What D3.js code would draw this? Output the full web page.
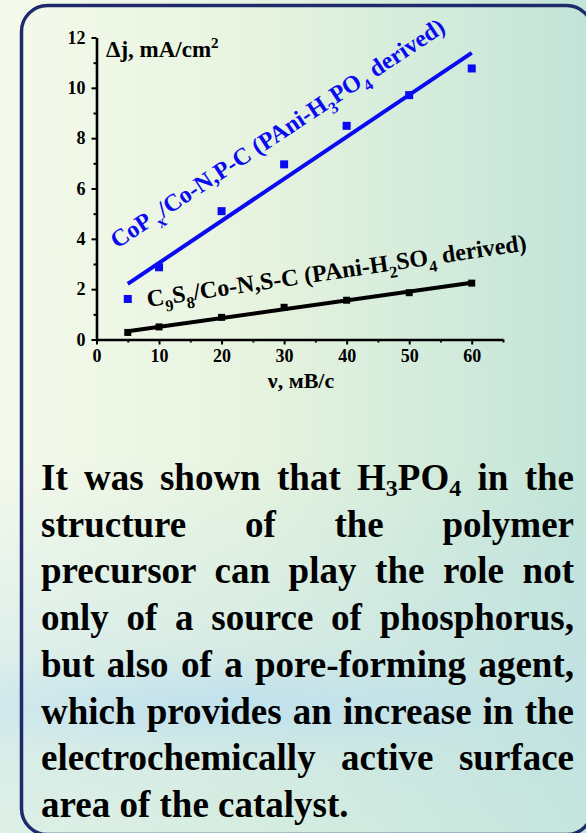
<!DOCTYPE html>
<html>
<head>
<meta charset="utf-8">
<script src="https://cdn.jsdelivr.net/npm/d3@7/dist/d3.min.js"></script>
<style>
  html, body { margin: 0; padding: 0; }
  body { width: 586px; height: 833px; position: relative; overflow: hidden; }
  svg { position: absolute; left: 0; top: 0; }
  #note {
    position: absolute; left: 41px; top: 455px; width: 533px;
    font-family: "Liberation Serif", "Times New Roman", serif;
    font-weight: bold; font-size: 37px; line-height: 46.7px; color: #000;
  }
  #note .ln { text-align: justify; text-align-last: justify; white-space: nowrap; }
  #note .ln.last { text-align: left; text-align-last: left; }
  #note sub { font-size: 0.65em; vertical-align: -0.25em; line-height: 0; }
</style>
</head>
<body>
<svg id="chart" width="586" height="833"></svg>
<div id="note"></div>
<script>
// scan rate, mV/s
const scanRates = [5, 10, 20, 30, 40, 50, 60];
// Δj for CoPx/Co-N,P-C (PAni-H3PO4 derived), mA/cm2
const copValues = [1.61, 2.87, 5.10, 6.96, 8.49, 9.71, 10.77];
// Δj for C9S8/Co-N,S-C (PAni-H2SO4 derived), mA/cm2
const c9s8Values = [0.28, 0.50, 0.88, 1.28, 1.56, 1.86, 2.24];
const xTicks = [0, 10, 20, 30, 40, 50, 60];
const xMinorTicks = [5, 15, 25, 35, 45, 55, 65];
const yTicks = [0, 2, 4, 6, 8, 10, 12];
const yMinorTicks = [1, 3, 5, 7, 9, 11];
const noteLines = [
  ["It was shown that H", {sub: "3"}, "PO", {sub: "4"}, " in the"],
  ["structure of the polymer"],
  ["precursor can play the role not"],
  ["only of a source of phosphorus,"],
  ["but also of a pore-forming agent,"],
  ["which provides an increase in the"],
  ["electrochemically active surface"],
  ["area of the catalyst."]
];

const svg = d3.select("#chart");
const defs = svg.append("defs");

// background wash
const g1 = defs.append("linearGradient").attr("id", "bgH").attr("x1", 0).attr("x2", 1).attr("y1", 0).attr("y2", 0);
g1.append("stop").attr("offset", "0%").attr("stop-color", "#f5faeb");
g1.append("stop").attr("offset", "45%").attr("stop-color", "#e6f3df");
g1.append("stop").attr("offset", "100%").attr("stop-color", "#c2e4d8");
const g2 = defs.append("linearGradient").attr("id", "bgV").attr("x1", 0).attr("x2", 0).attr("y1", 0).attr("y2", 1);
g2.append("stop").attr("offset", "0%").attr("stop-color", "#bfe0ea").attr("stop-opacity", 0);
g2.append("stop").attr("offset", "55%").attr("stop-color", "#bfe0ea").attr("stop-opacity", 0);
g2.append("stop").attr("offset", "85%").attr("stop-color", "#bfe0ea").attr("stop-opacity", 0.55);
g2.append("stop").attr("offset", "100%").attr("stop-color", "#c6e6e2").attr("stop-opacity", 0.5);
const g3 = defs.append("radialGradient").attr("id", "bgBand");
g3.append("stop").attr("offset", "0%").attr("stop-color", "#b9ddf0").attr("stop-opacity", 0.7);
g3.append("stop").attr("offset", "100%").attr("stop-color", "#b9ddf0").attr("stop-opacity", 0);

svg.append("rect").attr("width", 586).attr("height", 833).attr("fill", "url(#bgH)");
svg.append("rect").attr("width", 586).attr("height", 833).attr("fill", "url(#bgV)");
svg.append("ellipse").attr("cx", 230).attr("cy", 705).attr("rx", 330).attr("ry", 55).attr("fill", "url(#bgBand)");

// framed panel
svg.append("rect")
  .attr("x", 21.5).attr("y", 5.5).attr("width", 571).attr("height", 829)
  .attr("rx", 26).attr("ry", 26)
  .attr("fill", "none").attr("stroke", "#1f2a6c").attr("stroke-width", 3.5);

// scales
const x = d3.scaleLinear().domain([0, 65]).range([96.5, 503]);
const y = d3.scaleLinear().domain([0, 12]).range([339.5, 37.5]);

const fontFam = "'Liberation Serif', 'Times New Roman', serif";

function styleAxis(g) {
  g.select(".domain").attr("stroke", "#000").attr("stroke-width", 2.6);
  g.selectAll(".tick line").attr("stroke", "#000").attr("stroke-width", 2);
  g.selectAll(".tick text").attr("font-family", fontFam).attr("font-weight", "bold")
    .attr("font-size", 18).attr("fill", "#000");
}

// minor ticks
svg.append("g").attr("transform", `translate(0,${y(0)})`)
  .call(d3.axisBottom(x).tickValues(xMinorTicks).tickSize(3).tickFormat(""))
  .call(g => { g.select(".domain").remove(); g.selectAll(".tick line").attr("stroke", "#000").attr("stroke-width", 2); });
svg.append("g").attr("transform", `translate(${x(0)},0)`)
  .call(d3.axisLeft(y).tickValues(yMinorTicks).tickSize(3).tickFormat(""))
  .call(g => { g.select(".domain").remove(); g.selectAll(".tick line").attr("stroke", "#000").attr("stroke-width", 2); });

// major axes
svg.append("g").attr("transform", `translate(0,${y(0)})`)
  .call(d3.axisBottom(x).tickValues(xTicks).tickSize(5).tickPadding(5).tickSizeOuter(0).tickFormat(d3.format("d")))
  .call(styleAxis);
svg.append("g").attr("transform", `translate(${x(0)},0)`)
  .call(d3.axisLeft(y).tickValues(yTicks).tickSize(5).tickPadding(6).tickSizeOuter(0).tickFormat(d3.format("d")))
  .call(styleAxis);

// axis titles
const yTitle = svg.append("text").attr("x", 106).attr("y", 57)
  .attr("font-family", fontFam).attr("font-weight", "bold").attr("font-size", 23).attr("fill", "#000");
yTitle.append("tspan").text("Δj, mA/cm");
yTitle.append("tspan").attr("dy", -9).attr("font-size", 15).text("2");

svg.append("text").attr("x", 301).attr("y", 388).attr("text-anchor", "middle")
  .attr("font-family", fontFam).attr("font-weight", "bold").attr("font-size", 22).attr("fill", "#000")
  .text("ν, мВ/с");

// least-squares line through a series
function fit(xs, ys) {
  const mx = d3.mean(xs), my = d3.mean(ys);
  const sxy = d3.sum(xs, (v, i) => (v - mx) * (ys[i] - my));
  const sxx = d3.sum(xs, v => (v - mx) * (v - mx));
  const k = sxy / sxx, b = my - k * mx;
  const ends = d3.extent(xs);
  return ends.map(v => [v, k * v + b]);
}

const line = d3.line().x(d => x(d[0])).y(d => y(d[1]));
const BLUE = "#0a0af2";

const series = [
  {vals: copValues, color: BLUE, size: 8},
  {vals: c9s8Values, color: "#000", size: 7}
];

series.forEach(s => {
  svg.append("path").datum(fit(scanRates, s.vals)).attr("d", line)
    .attr("fill", "none").attr("stroke", s.color).attr("stroke-width", 4);
  svg.append("g").selectAll("rect").data(scanRates.map((v, i) => [v, s.vals[i]])).join("rect")
    .attr("x", d => x(d[0]) - s.size / 2).attr("y", d => y(d[1]) - s.size / 2)
    .attr("width", s.size).attr("height", s.size).attr("fill", s.color);
});

// rotated series labels with sub-scripts
function richLabel(parts, tx, ty, angle, color, size) {
  const t = svg.append("text")
    .attr("transform", `translate(${tx},${ty}) rotate(${angle})`)
    .attr("font-family", fontFam).attr("font-weight", "bold")
    .attr("font-size", size).attr("fill", color);
  let shifted = false;
  parts.forEach(p => {
    if (typeof p === "string") {
      t.append("tspan").attr("dy", shifted ? -size * 0.3 : 0).text(p);
      shifted = false;
    } else {
      t.append("tspan").attr("dy", shifted ? 0 : size * 0.3).attr("dx", p.dx || 0)
        .attr("font-size", size * 0.68).text(p.sub);
      shifted = true;
    }
  });
}

richLabel(["CoP", {sub: "x", dx: 4}, "/Co-N,P-C (PAni-H", {sub: "3"}, "PO", {sub: "4"}, " derived)"],
  117, 249, -33.5, BLUE, 24);
richLabel(["C", {sub: "9"}, "S", {sub: "8"}, "/Co-N,S-C (PAni-H", {sub: "2"}, "SO", {sub: "4"}, " derived)"],
  148, 307, -8.5, "#000", 24);

// explanatory paragraph, one justified line per entry
const note = d3.select("#note");
noteLines.forEach((parts, i) => {
  const ln = note.append("div").attr("class", "ln" + (i === noteLines.length - 1 ? " last" : ""));
  parts.forEach(p => {
    if (typeof p === "string") ln.append("span").text(p);
    else ln.append("sub").text(p.sub);
  });
});
</script>
</body>
</html>
